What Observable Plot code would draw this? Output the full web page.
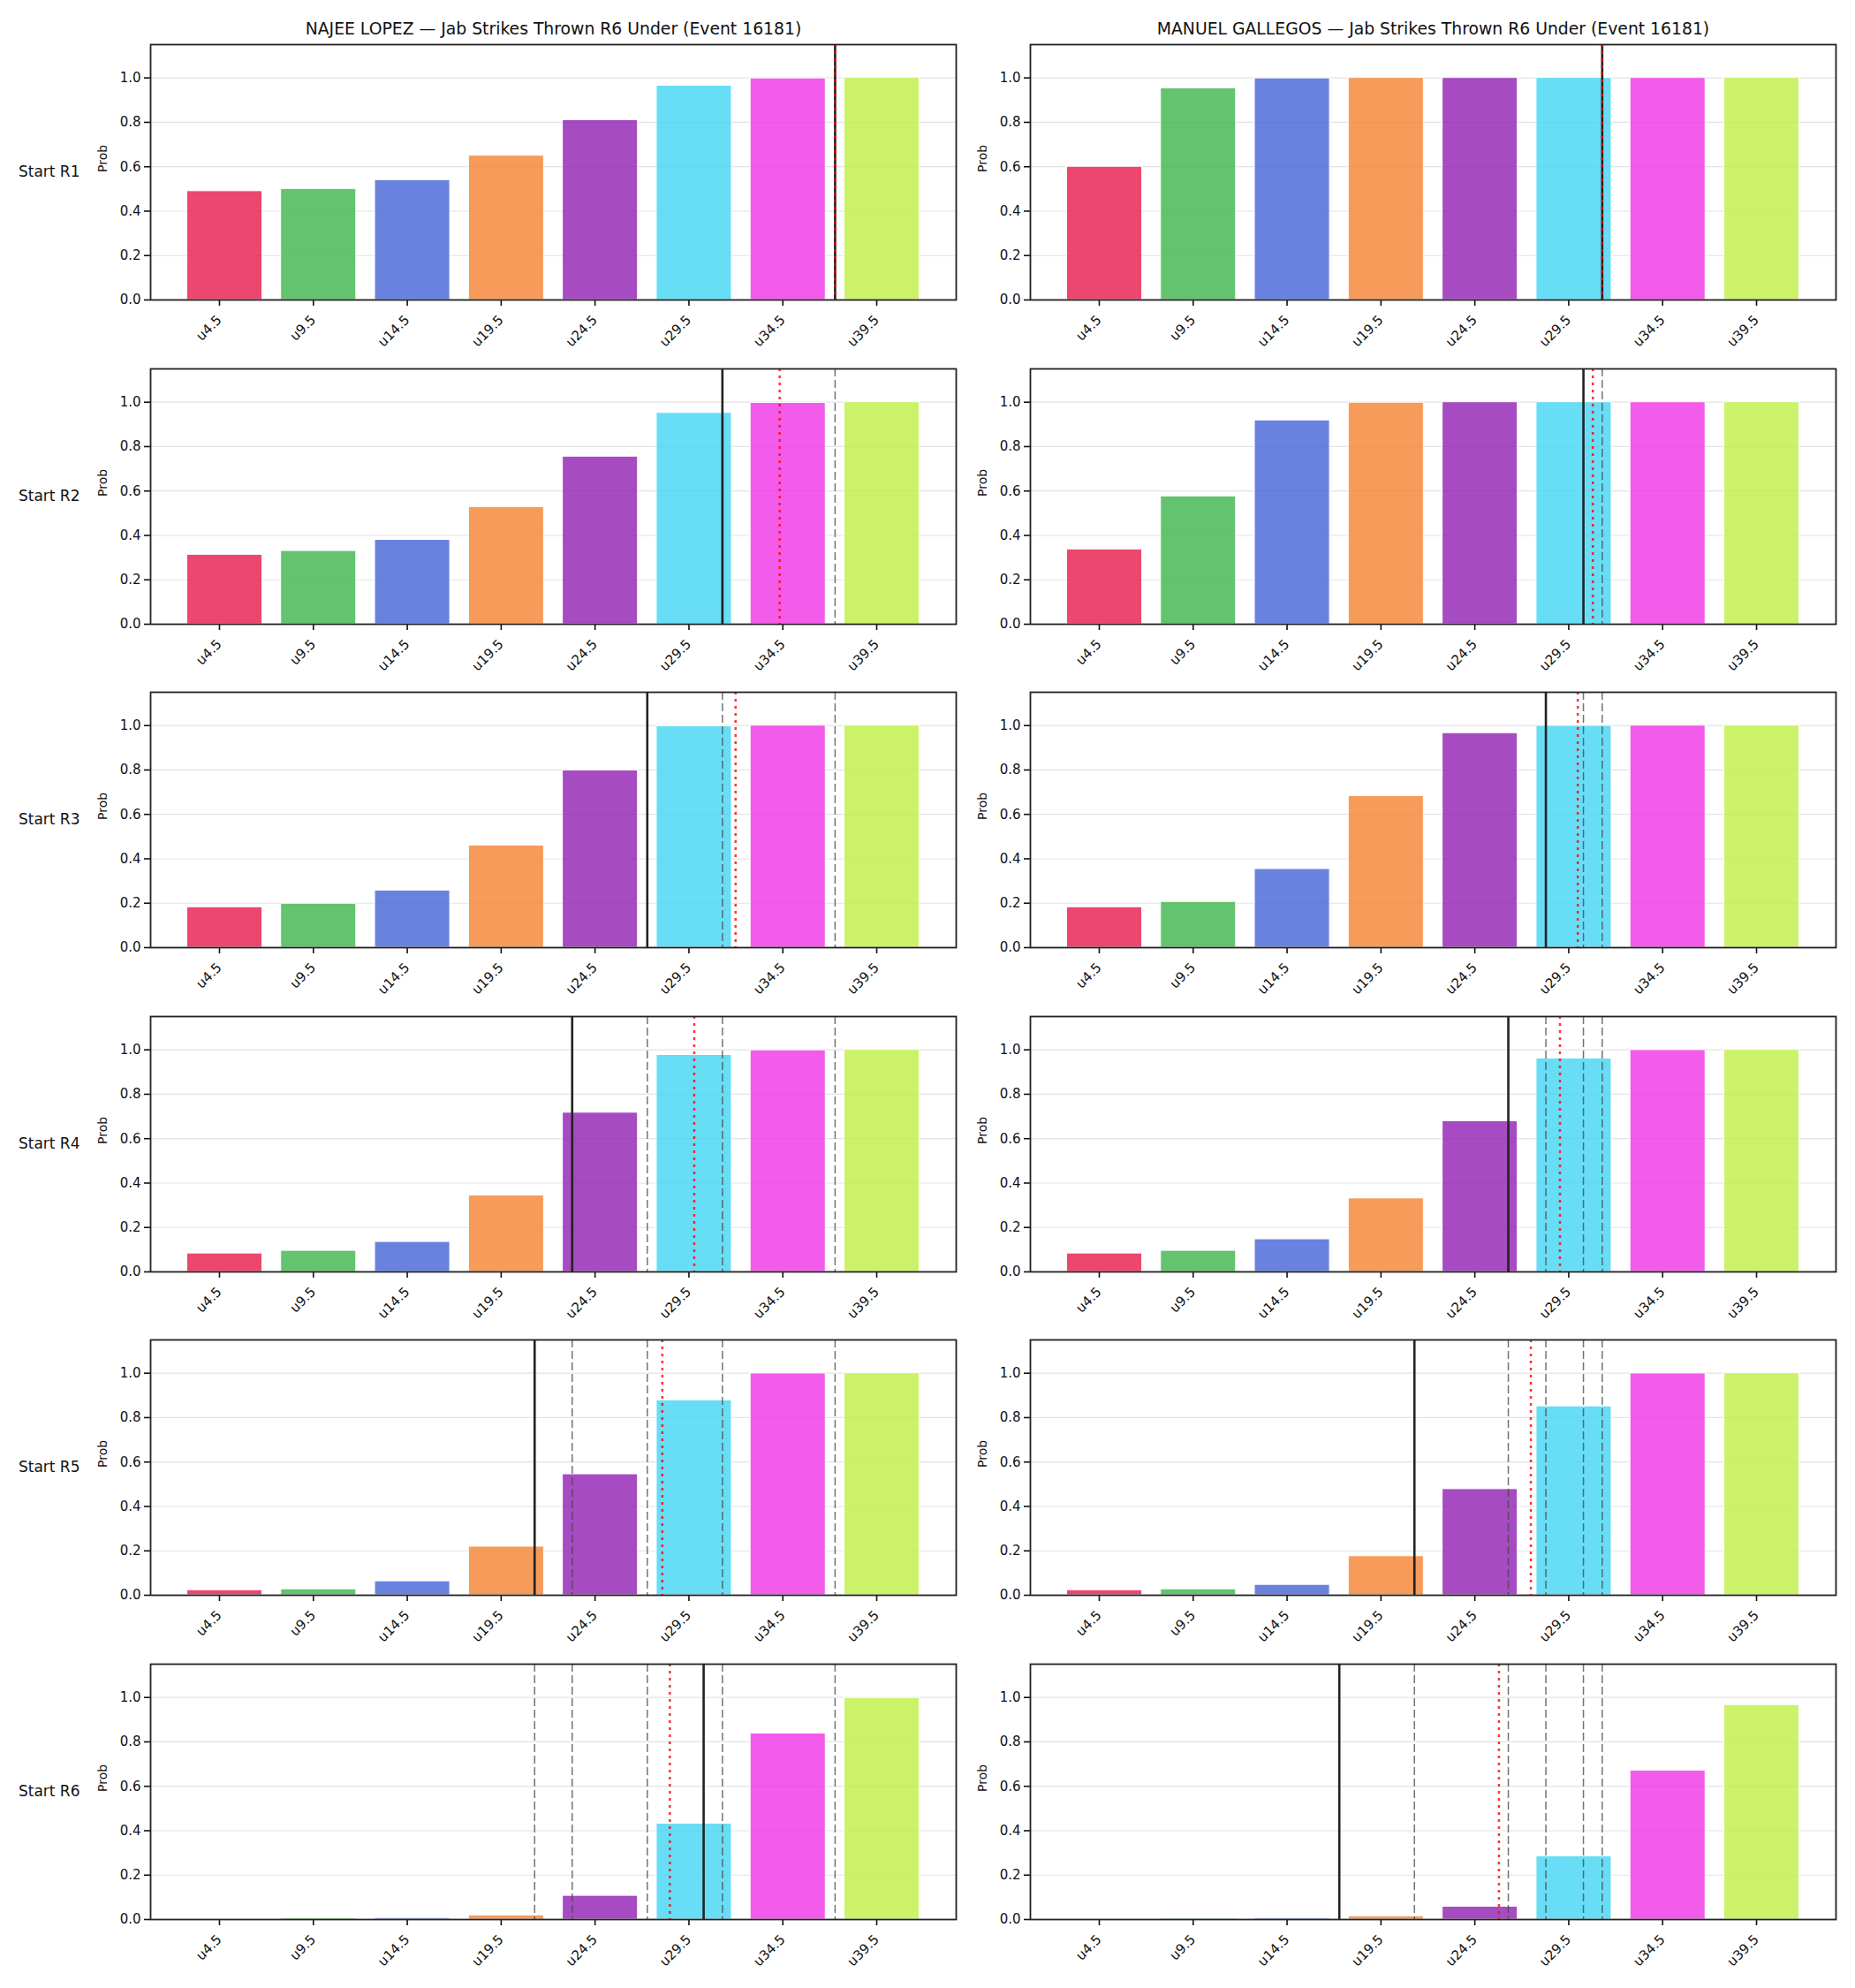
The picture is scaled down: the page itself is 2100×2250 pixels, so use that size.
<!DOCTYPE html>
<html>
<head>
<meta charset="utf-8">
<script src="https://cdn.jsdelivr.net/npm/d3@7"></script>
<script src="https://cdn.jsdelivr.net/npm/@observablehq/plot@0.6"></script>
<style>
  body { margin: 0; background: #fff; }
  #fig { position: relative; width: 2100px; height: 2250px; background: #fff; font-family: "DejaVu Sans", sans-serif; }
  #fig > svg { position: absolute; overflow: visible; }
</style>
</head>
<body>
<div id="fig"></div>
<script>
// Under thresholds (jab strikes thrown) and their axis labels
const thresholds = [4.5, 9.5, 14.5, 19.5, 24.5, 29.5, 34.5, 39.5];
const tickLabels = ["u4.5", "u9.5", "u14.5", "u19.5", "u24.5", "u29.5", "u34.5", "u39.5"];
const barColors = ["#e6194b", "#3cb44b", "#4363d8", "#f58231", "#911eb4", "#42d4f4", "#f032e6", "#bfef45"];

const rounds = ["Start R1", "Start R2", "Start R3", "Start R4", "Start R5", "Start R6"];
const fighters = ["NAJEE LOPEZ", "MANUEL GALLEGOS"];
const market = "Jab Strikes Thrown R6 Under (Event 16181)";

// P(under) for each threshold, one row per starting round
const lopezProbs = [
  [0.490, 0.500, 0.540, 0.650, 0.810, 0.965, 0.998, 1.000],
  [0.313, 0.330, 0.380, 0.528, 0.755, 0.952, 0.997, 1.000],
  [0.182, 0.198, 0.257, 0.460, 0.798, 0.997, 1.000, 1.000],
  [0.083, 0.095, 0.135, 0.344, 0.717, 0.977, 0.998, 1.000],
  [0.023, 0.027, 0.063, 0.219, 0.545, 0.878, 0.999, 1.000],
  [0.003, 0.006, 0.007, 0.019, 0.107, 0.432, 0.838, 0.998]
];
const gallegosProbs = [
  [0.600, 0.953, 0.998, 1.000, 1.000, 1.000, 1.000, 1.000],
  [0.337, 0.576, 0.918, 0.998, 1.000, 1.000, 1.000, 1.000],
  [0.182, 0.206, 0.354, 0.683, 0.966, 0.999, 1.000, 1.000],
  [0.083, 0.095, 0.147, 0.331, 0.679, 0.961, 0.999, 1.000],
  [0.023, 0.027, 0.047, 0.176, 0.478, 0.851, 0.999, 1.000],
  [0.002, 0.005, 0.006, 0.015, 0.058, 0.285, 0.671, 0.966]
];

// Reference markers in strike units: current line (solid) and model mean (dotted);
// earlier rounds' lines are repeated as dashed markers
const lopezLine = [37, 31, 27, 23, 21, 30];
const lopezMean = [37, 34.05, 31.7, 29.5, 27.8, 28.2];
const gallegosLine = [31, 30, 28, 26, 21, 17];
const gallegosMean = [31, 30.5, 29.7, 28.75, 27.2, 25.5];

const yTicks = [0, 0.2, 0.4, 0.6, 0.8, 1.0];
const labelOf = new Map(thresholds.map((t, i) => [t, tickLabels[i]]));

const BAR_HALF = 2;          // bar width 0.8 of the 5-strike spacing
const ROW_STEP = 366.5;
const AXES_TOP = 50;
const AXES_H = 289;
const M_TOP = 50, M_BOTTOM = 70;

const columns = [
  {name: fighters[0], probs: lopezProbs, line: lopezLine, mean: lopezMean,
   left: 0, width: 1100, ml: 170, mr: 18, rowLabels: true},
  {name: fighters[1], probs: gallegosProbs, line: gallegosLine, mean: gallegosMean,
   left: 1100, width: 1000, ml: 66, mr: 22, rowLabels: false}
];

const fig = document.getElementById("fig");

columns.forEach(col => {
  rounds.forEach((roundLabel, r) => {
    const bars = thresholds.map((t, i) => ({t, p: col.probs[r][i], color: barColors[i]}));
    const earlier = col.line.slice(0, r);

    const marks = [
      Plot.ruleY(yTicks, {stroke: "#b0b0b0", strokeOpacity: 0.35, strokeWidth: 1.2}),
      Plot.rect(bars, {
        x1: d => d.t - BAR_HALF, x2: d => d.t + BAR_HALF, y1: 0, y2: "p",
        fill: "color", fillOpacity: 0.8, stroke: "white", strokeWidth: 1
      }),
      Plot.ruleX(earlier, {stroke: "#444", strokeOpacity: 0.75, strokeWidth: 1.5, strokeDasharray: "9,4"}),
      Plot.ruleX([col.line[r]], {stroke: "#222", strokeWidth: 2.6}),
      Plot.ruleX([col.mean[r]], {stroke: "red", strokeOpacity: 0.8, strokeWidth: 2.5, strokeDasharray: "3,5"}),
      Plot.axisY({ticks: yTicks, tickFormat: d3.format(".1f"), tickSize: 7, tickPadding: 4,
                  fontSize: 15, label: null, strokeWidth: 1.6}),
      Plot.axisX({ticks: thresholds, tickFormat: d => labelOf.get(d), tickRotate: -45,
                  tickSize: 7, tickPadding: 13, fontSize: 15, label: null, strokeWidth: 1.6,
                  textStroke: "none", dx: -6}),
      Plot.frame({stroke: "#222", strokeWidth: 1.8}),
      Plot.text(["Prob"], {frameAnchor: "left", dx: -54, rotate: -90, fontSize: 14, lineAnchor: "middle"})
    ];
    if (col.rowLabels) {
      marks.push(Plot.text([roundLabel], {frameAnchor: "left", dx: -80, textAnchor: "end", fontSize: 17, lineAnchor: "middle"}));
    }
    if (r === 0) {
      marks.push(Plot.text([`${col.name} — ${market}`], {frameAnchor: "top", dy: -18, fontSize: 18.8, lineAnchor: "middle"}));
    }

    const svg = Plot.plot({
      width: col.width,
      height: M_TOP + AXES_H + M_BOTTOM,
      marginTop: M_TOP,
      marginBottom: M_BOTTOM,
      marginLeft: col.ml,
      marginRight: col.mr,
      x: {type: "linear", domain: [0.55, 43.45]},
      y: {domain: [0, 1.15]},
      color: {type: "identity"},
      style: {fontFamily: "DejaVu Sans", fontSize: "15px", background: "transparent", color: "#111", overflow: "visible"},
      marks
    });
    svg.style.left = col.left + "px";
    svg.style.top = (AXES_TOP + ROW_STEP * r - M_TOP) + "px";
    fig.appendChild(svg);
  });
});
</script>
</body>
</html>
